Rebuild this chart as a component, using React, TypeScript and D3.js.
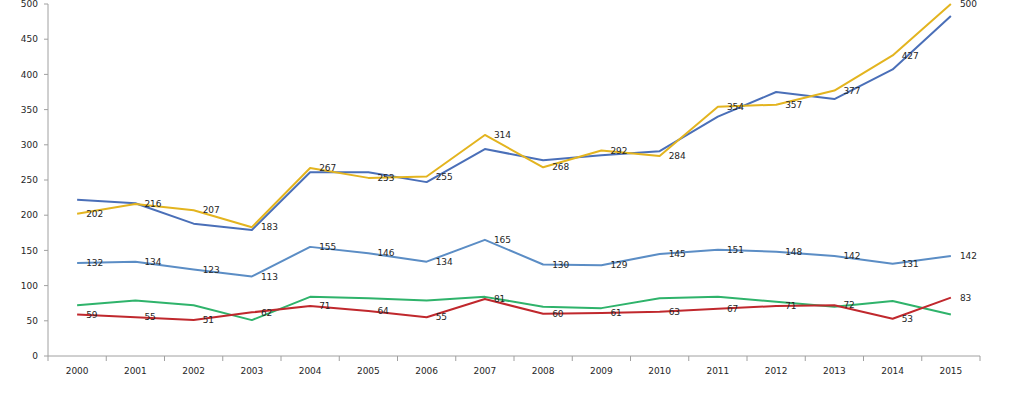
import React from 'react';
import * as d3 from 'd3';

const years = ['2000', '2001', '2002', '2003', '2004', '2005', '2006', '2007', '2008', '2009', '2010', '2011', '2012', '2013', '2014', '2015'];

// gold series (labelled)
const gold = [202, 216, 207, 183, 267, 253, 255, 314, 268, 292, 284, 354, 357, 377, 427, 500];
// dark blue series (no labels)
const navy = [222, 217, 188, 179, 261, 261, 247, 294, 278, 285, 291, 340, 375, 365, 407, 483];
// light blue series (labelled)
const sky = [132, 134, 123, 113, 155, 146, 134, 165, 130, 129, 145, 151, 148, 142, 131, 142];
// green series (no labels)
const green = [72, 79, 72, 51, 84, 82, 79, 84, 70, 68, 82, 84, 77, 70, 78, 59];
// red series (labelled)
const red = [59, 55, 51, 62, 71, 64, 55, 81, 60, 61, 63, 67, 71, 72, 53, 83];

const yTicks = [0, 50, 100, 150, 200, 250, 300, 350, 400, 450, 500];

const series = [
  { name: 'green', values: green, color: '#2fb36b', labels: false },
  { name: 'red', values: red, color: '#c0282d', labels: true },
  { name: 'sky', values: sky, color: '#5b8dc5', labels: true },
  { name: 'navy', values: navy, color: '#4a6fb8', labels: false },
  { name: 'gold', values: gold, color: '#e3b41f', labels: true },
];

export default function App() {
  const width = 1024;
  const height = 393;
  const left = 48;
  const right = 980;
  const top = 4;
  const bottom = 356;

  const x = d3.scaleBand<string>().domain(years).range([left, right]);
  const cx = (yr: string) => (x(yr) as number) + x.bandwidth() / 2;
  const y = d3.scaleLinear().domain([0, 500]).range([bottom, top]);

  const line = d3.line<number>()
    .x((_, i) => cx(years[i]))
    .y(d => y(d));

  const font = 'DejaVu Sans, Verdana, sans-serif';
  const axisColor = '#a0a0a0';
  const textColor = '#262626';

  const boundaries = years.map(yr => x(yr) as number).concat([right]);

  return (
    <svg width={width} height={height} style={{ position: 'absolute', left: 0, top: 0, background: '#fff' }}>
      {/* y axis */}
      <line x1={left} x2={left} y1={top} y2={bottom} stroke={axisColor} strokeWidth={1} />
      {yTicks.map(t => (
        <g key={t}>
          <line x1={left - 4} x2={left} y1={y(t)} y2={y(t)} stroke={axisColor} />
          <text x={38} y={y(t)} dy="0.35em" textAnchor="end" fontSize={9} fontFamily={font} fill={textColor}>{t}</text>
        </g>
      ))}
      {/* x axis */}
      <line x1={left} x2={right} y1={bottom} y2={bottom} stroke={axisColor} strokeWidth={1} />
      {boundaries.map((b, i) => (
        <line key={i} x1={b} x2={b} y1={bottom} y2={bottom + 5} stroke={axisColor} />
      ))}
      {years.map(yr => (
        <text key={yr} x={cx(yr)} y={371} dy="0.35em" textAnchor="middle" fontSize={9} fontFamily={font} fill={textColor}>{yr}</text>
      ))}
      {/* lines */}
      {series.map(s => (
        <path key={s.name} d={line(s.values) || ''} fill="none" stroke={s.color} strokeWidth={2} strokeLinejoin="round" />
      ))}
      {/* data labels */}
      {series.filter(s => s.labels).map(s => (
        <g key={s.name + '-lbl'}>
          {s.values.map((v, i) => (
            <text key={i} x={cx(years[i]) + 9} y={y(v)} dy="0.35em" fontSize={9} fontFamily={font} fill={textColor}>{v}</text>
          ))}
        </g>
      ))}
    </svg>
  );
}
